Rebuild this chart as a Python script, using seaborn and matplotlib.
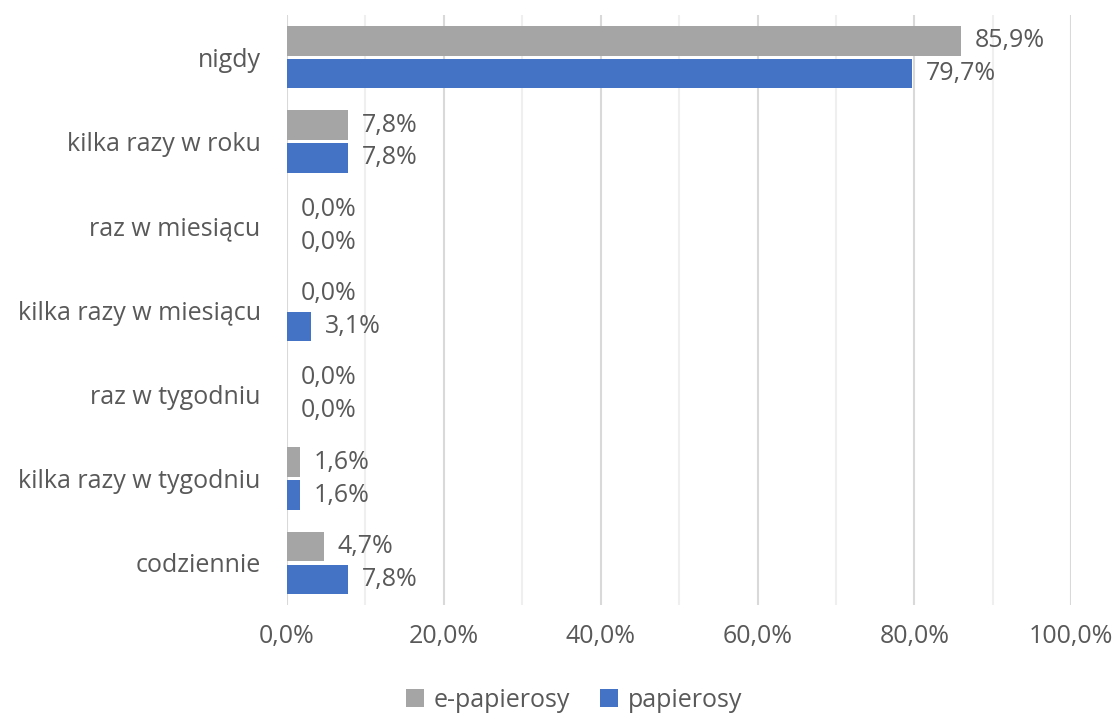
import pandas as pd
import numpy as np
import matplotlib
matplotlib.use("Agg")
import matplotlib.pyplot as plt
import seaborn as sns
from matplotlib.ticker import MultipleLocator, FuncFormatter

# Dane (%)
kategorie = ["nigdy", "kilka razy w roku", "raz w miesiącu", "kilka razy w miesiącu",
             "raz w tygodniu", "kilka razy w tygodniu", "codziennie"]
e_papierosy = [85.9, 7.8, 0.0, 0.0, 0.0, 1.6, 4.7]
papierosy = [79.7, 7.8, 0.0, 3.1, 0.0, 1.6, 7.8]
serie = ["e-papierosy", "papierosy"]
kolory = ["#a5a5a5", "#4472c4"]

df = pd.DataFrame({
    "kategoria": kategorie * 2,
    "wartosc": e_papierosy + papierosy,
    "seria": [serie[0]] * len(kategorie) + [serie[1]] * len(kategorie),
})

sns.set_style("white")
plt.rcParams["font.family"] = ["Open Sans", "DejaVu Sans"]
tekst = "#595959"
fs = 18

fig, ax = plt.subplots(figsize=(11.17, 7.16), dpi=100)
fig.subplots_adjust(left=0.257, right=0.959, top=0.979, bottom=0.155)

sns.barplot(data=df, x="wartosc", y="kategoria", hue="seria", orient="h",
            palette=kolory, saturation=1, width=0.78, gap=0.1, linewidth=0,
            ax=ax, legend=True, zorder=3)

# etykiety danych z przecinkiem
for cont, vals in zip(ax.containers, [e_papierosy, papierosy]):
    ax.bar_label(cont, labels=[f"{v:.1f}%".replace(".", ",") for v in vals],
                 padding=10, fontsize=fs, color=tekst)

ax.set_xlim(0, 100)
ax.set_ylim(6.5, -0.5)
ax.xaxis.set_major_locator(MultipleLocator(20))
ax.xaxis.set_minor_locator(MultipleLocator(10))
ax.xaxis.set_major_formatter(FuncFormatter(lambda v, p: f"{v:.1f}%".replace(".", ",")))
ax.grid(axis="x", which="major", color="#d9d9d9", linewidth=1.5, zorder=0)
ax.grid(axis="x", which="minor", color="#efefef", linewidth=1.5, zorder=0)
ax.set_axisbelow(True)
for s in ax.spines.values():
    s.set_visible(False)
ax.tick_params(axis="both", which="both", length=0, labelsize=fs, labelcolor=tekst)
ax.tick_params(axis="x", pad=14)
ax.tick_params(axis="y", pad=19)
ax.set_xlabel("")
ax.set_ylabel("")

handles, labels = ax.get_legend_handles_labels()
ax.get_legend().remove()
fig.legend(handles, labels, loc="center", bbox_to_anchor=(0.514, 0.022), ncol=2,
           frameon=False, fontsize=fs, labelcolor=tekst, handlelength=0.7,
           handleheight=0.7, handletextpad=0.4, columnspacing=1.2)

plt.savefig("out.png", dpi=100)
